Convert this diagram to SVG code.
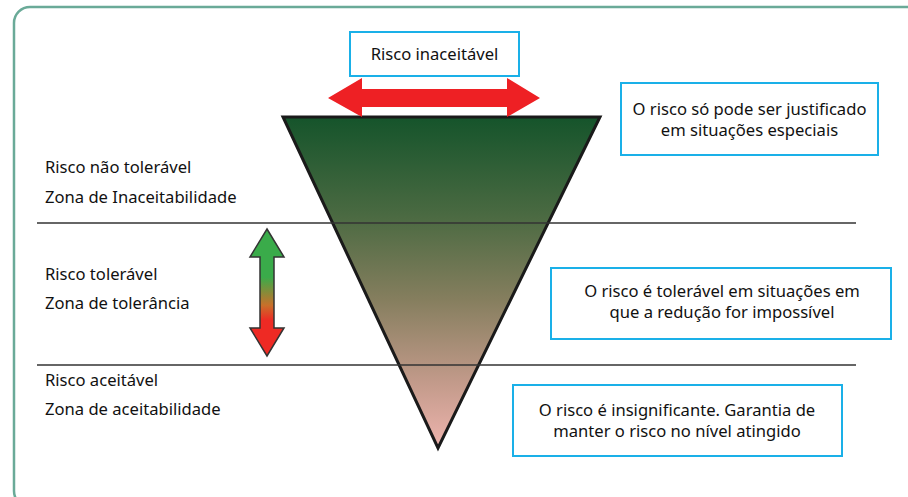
<svg xmlns="http://www.w3.org/2000/svg" width="908" height="497" viewBox="0 0 908 497">
<defs>
<linearGradient id="triGrad" x1="0" y1="117" x2="0" y2="448" gradientUnits="userSpaceOnUse">
<stop offset="0" stop-color="#15542b"/>
<stop offset="0.3" stop-color="#4b6a42"/>
<stop offset="0.55" stop-color="#857e5e"/>
<stop offset="0.8" stop-color="#c29a8a"/>
<stop offset="1" stop-color="#eeb4ae"/>
</linearGradient>
<linearGradient id="vGrad" x1="0" y1="229" x2="0" y2="356" gradientUnits="userSpaceOnUse">
<stop offset="0" stop-color="#3aab4a"/>
<stop offset="0.38" stop-color="#3aab4a"/>
<stop offset="0.6" stop-color="#c8702a"/>
<stop offset="0.72" stop-color="#ee2a24"/>
<stop offset="1" stop-color="#ee2a24"/>
</linearGradient>
<style>
text{font-family:"Noto Sans","Open Sans","Liberation Sans",sans-serif;font-size:16.6px;fill:#111}
.box{fill:#fff;stroke:#1ab0e8;stroke-width:2}
.mid{text-anchor:middle}
.zone{stroke:#333;stroke-width:1.6}
</style>
</defs>
<rect x="0" y="0" width="908" height="497" fill="#fff"/>
<rect x="14" y="7" width="910" height="500" rx="16" fill="none" stroke="#6aaa98" stroke-width="2.5"/>

<g id="triangle">
<polygon points="283,117 600,117 438,448" fill="url(#triGrad)" stroke="#1a1a1a" stroke-width="3" stroke-linejoin="miter"/>
</g>

<g id="connectors">
<line class="zone" x1="37" y1="223" x2="856" y2="223"/>
<line class="zone" x1="37" y1="365" x2="856" y2="365"/>
<polygon id="redArrow" points="328,98 362,78 362,89 507,89 507,78 540,98 507,117 507,107 362,107 362,117" fill="#ee2024"/>
<polygon id="vArrow" points="267,229 284,257 274,257 274,328 284,328 267,356 250,328 260,328 260,257 250,257" fill="url(#vGrad)" stroke="#333" stroke-width="1.5" stroke-linejoin="miter"/>
</g>

<g id="label-inaceitavel">
<rect class="box" x="350" y="32" width="169" height="44"/>
<text class="mid" x="434.5" y="60">Risco inaceitável</text>
</g>

<g id="box-justificado">
<rect class="box" x="621" y="83" width="257" height="72"/>
<text class="mid" x="749.5" y="115">O risco só pode ser justificado</text>
<text class="mid" x="749.5" y="136">em situações especiais</text>
</g>

<g id="box-toleravel">
<rect class="box" x="551" y="268" width="340" height="71"/>
<text class="mid" x="722" y="297">O risco é tolerável em situações em</text>
<text class="mid" x="722" y="318">que a redução for impossível</text>
</g>

<g id="box-insignificante">
<rect class="box" x="513" y="385" width="329" height="71"/>
<text class="mid" x="677" y="416">O risco é insignificante. Garantia de</text>
<text class="mid" x="677" y="437">manter o risco no nível atingido</text>
</g>

<g id="zone-labels">
<text x="45" y="173">Risco não tolerável</text>
<text x="45" y="203">Zona de Inaceitabilidade</text>
<text x="45" y="280">Risco tolerável</text>
<text x="45" y="309">Zona de tolerância</text>
<text x="45" y="386">Risco aceitável</text>
<text x="45" y="415">Zona de aceitabilidade</text>
</g>
</svg>
